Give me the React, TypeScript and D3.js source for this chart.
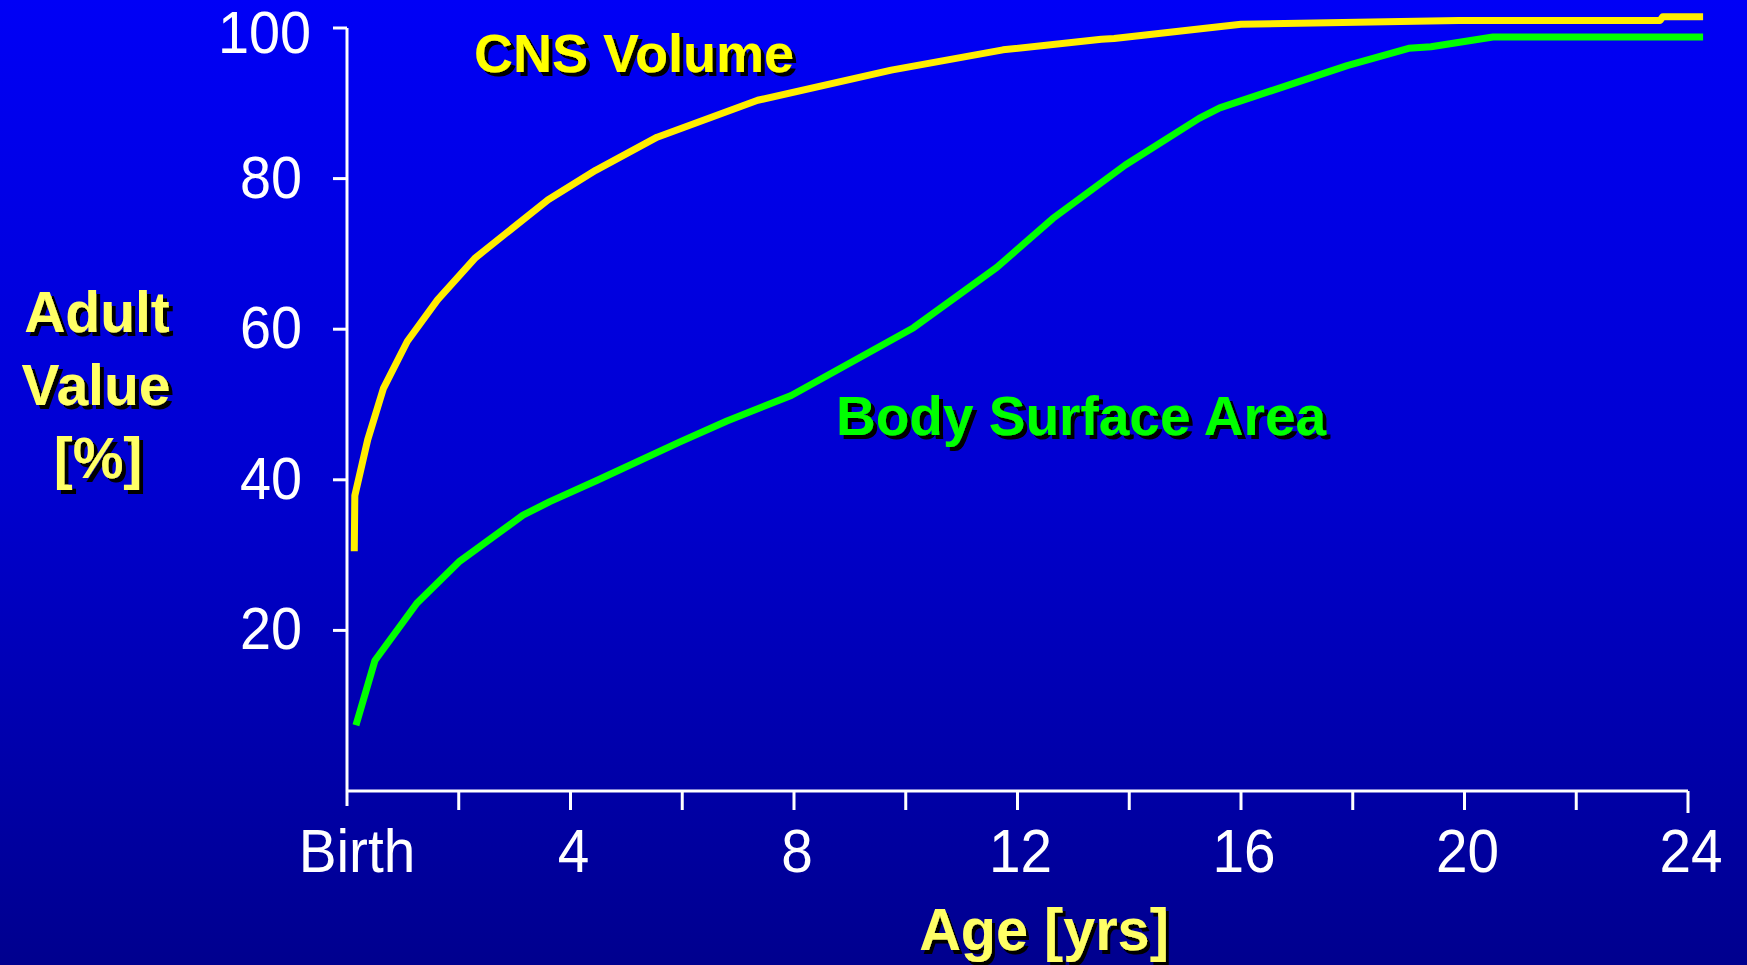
import React from "react";
import * as d3 from "d3";

const W = 1747;
const H = 965;

// Age in years, value in % of adult value
const cnsAge = [0.13, 0.14, 0.37, 0.65, 1.08, 1.62, 2.3, 3.6, 4.45, 5.55, 7.35, 9.74, 11.74, 13.5, 13.73, 16.0, 19.9, 23.5, 23.55, 24.27];
const cnsValue = [30.5, 37.9, 45.3, 52.1, 58.4, 63.9, 69.5, 77.2, 81.1, 85.5, 90.4, 94.4, 97.1, 98.5, 98.6, 100.5, 101.0, 101.0, 101.5, 101.5];

const bsaAge = [0.16, 0.5, 1.25, 2.02, 3.15, 3.63, 4.47, 5.95, 6.8, 7.95, 10.14, 11.63, 12.63, 13.93, 15.25, 15.62, 17.9, 19.0, 19.4, 20.51, 24.27];
const bsaValue = [7.4, 16.0, 23.6, 29.2, 35.3, 37.1, 39.9, 45.0, 47.8, 51.2, 60.2, 68.2, 74.7, 81.8, 88.0, 89.4, 95.0, 97.3, 97.5, 98.8, 98.8];

const xTicks = [0, 2, 4, 6, 8, 10, 12, 14, 16, 18, 20, 22, 24];
const xTickLabels = ["Birth", "", "4", "", "8", "", "12", "", "16", "", "20", "", "24"];
const yTicks = [20, 40, 60, 80, 100];

const FONT = "'Liberation Sans', Arial, Helvetica, sans-serif";

function ShadowText(props: { x: number; y: number; fill: string; size: number; children: React.ReactNode; anchor?: string; sx?: number }) {
  const { x, y, fill, size, children, anchor = "start", sx = 1 } = props;
  return (
    <text
      transform={`translate(${x},${y}) scale(${sx},1)`}
      fill={fill}
      fontFamily={FONT}
      fontWeight="bold"
      fontSize={size}
      textAnchor={anchor}
      filter="url(#shadow)"
    >
      {children}
    </text>
  );
}

export default function App() {
  const x = d3.scaleLinear().domain([0, 24]).range([347, 1688]);
  const y = d3.scaleLinear().domain([0, 100]).range([781, 28]);
  const axisY = 791;

  const line = d3
    .line<[number, number]>()
    .x((d) => x(d[0]))
    .y((d) => y(d[1]))
    .curve(d3.curveLinear);

  const cns = cnsAge.map((a, i) => [a, cnsValue[i]] as [number, number]);
  const bsa = bsaAge.map((a, i) => [a, bsaValue[i]] as [number, number]);

  return (
    <svg
      width={W}
      height={H}
      style={{ position: "absolute", left: 0, top: 0, display: "block" }}
    >
      <defs>
        <linearGradient id="bg" x1="0" y1="0" x2="0" y2="1">
          <stop offset="0" stopColor="#0000f6" />
          <stop offset="0.5" stopColor="#0000d0" />
          <stop offset="1" stopColor="#00008e" />
        </linearGradient>
        <filter id="shadow" x="-10%" y="-30%" width="130%" height="160%">
          <feOffset in="SourceAlpha" dx="3.5" dy="3.5" result="off" />
          <feFlood floodColor="#000000" result="blk" />
          <feComposite in="blk" in2="off" operator="in" result="sh" />
          <feMerge>
            <feMergeNode in="sh" />
            <feMergeNode in="SourceGraphic" />
          </feMerge>
        </filter>
      </defs>
      <rect x={0} y={0} width={W} height={H} fill="url(#bg)" />

      {/* Y axis */}
      <line x1={x(0)} x2={x(0)} y1={y(100)} y2={axisY} stroke="#ffffff" strokeWidth={3} />
      {yTicks.map((t) => (
        <g key={"yt" + t}>
          <line x1={x(0) - 14} x2={x(0)} y1={y(t)} y2={y(t)} stroke="#ffffff" strokeWidth={3} />
          <text
            transform={`translate(${t === 100 ? 311 : 302},${t === 100 ? y(t) + 25 : y(t) + 19}) scale(0.93,1)`}
            fill="#ffffff"
            fontFamily={FONT}
            fontSize={60}
            textAnchor="end"
          >
            {t}
          </text>
        </g>
      ))}

      {/* X axis */}
      <line x1={x(0)} x2={x(24)} y1={axisY} y2={axisY} stroke="#ffffff" strokeWidth={3} />
      {xTicks.map((t, i) => (
        <g key={"xt" + t}>
          <line
            x1={x(t)}
            x2={x(t)}
            y1={axisY}
            y2={i === 0 ? 806 : i === xTicks.length - 1 ? 813 : 810}
            stroke="#ffffff"
            strokeWidth={3}
          />
          {xTickLabels[i] && (
            <text
              transform={`translate(${x(t) + (i === 0 ? 10 : 3)},872) scale(0.93,1)`}
              fill="#ffffff"
              fontFamily={FONT}
              fontSize={61}
              textAnchor="middle"
            >
              {xTickLabels[i]}
            </text>
          )}
        </g>
      ))}

      {/* Curves */}
      <path d={line(bsa) || ""} fill="none" stroke="#00ff00" strokeWidth={7} strokeLinejoin="round" />
      <path d={line(cns) || ""} fill="none" stroke="#ffee00" strokeWidth={7} strokeLinejoin="round" />

      {/* Labels */}
      <ShadowText x={474} y={72} fill="#ffff00" size={54}>CNS Volume</ShadowText>
      <ShadowText x={836} y={435} fill="#00ff00" size={55}>Body Surface Area</ShadowText>

      <ShadowText x={97} y={332} fill="#ffff66" size={57} anchor="middle">Adult</ShadowText>
      <ShadowText x={96} y={405} fill="#ffff66" size={57} anchor="middle">Value</ShadowText>
      <ShadowText x={98} y={478} fill="#ffff66" size={57} anchor="middle">[%]</ShadowText>

      <ShadowText x={1044} y={950} fill="#ffff66" size={60} anchor="middle" sx={0.96}>Age [yrs]</ShadowText>
    </svg>
  );
}
